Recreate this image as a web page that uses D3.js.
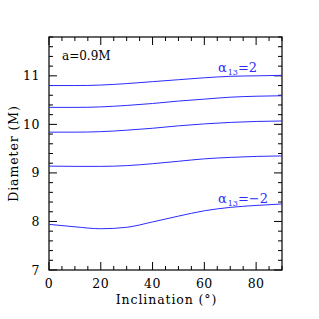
<!DOCTYPE html>
<html>
<head>
<meta charset="utf-8">
<script src="https://cdn.jsdelivr.net/npm/d3@7"></script>
<style>
  body { margin: 0; background: #fff; }
  svg text { font-family: "DejaVu Serif", "Liberation Serif", serif; }
</style>
</head>
<body>
<div id="chart"></div>
<script>
// Inclination samples (degrees)
const inclination = [0, 10, 20, 30, 40, 50, 60, 70, 80, 90];

// Diameter curves, top (alpha13 = 2) to bottom (alpha13 = -2)
const curve1 = [10.80, 10.80, 10.81, 10.84, 10.88, 10.92, 10.96, 10.99, 11.00, 11.01];
const curve2 = [10.35, 10.35, 10.36, 10.39, 10.43, 10.48, 10.52, 10.56, 10.58, 10.59];
const curve3 = [9.84, 9.84, 9.85, 9.88, 9.92, 9.97, 10.01, 10.04, 10.06, 10.07];
const curve4 = [9.14, 9.135, 9.135, 9.15, 9.19, 9.24, 9.29, 9.32, 9.34, 9.35];
const curve5 = [7.94, 7.89, 7.85, 7.88, 7.99, 8.11, 8.22, 8.29, 8.33, 8.36];
const curves = [curve1, curve2, curve3, curve4, curve5];

const xTicks = [0, 20, 40, 60, 80];
const yTicks = [7, 8, 9, 10, 11];

const width = 319, height = 319;
const margin = { left: 49, right: 37, top: 37, bottom: 49 };

const svg = d3.select("#chart").append("svg")
    .attr("width", width)
    .attr("height", height);

const x = d3.scaleLinear().domain([0, 90]).range([margin.left, width - margin.right]);
const y = d3.scaleLinear().domain([7, 11.8]).range([height - margin.bottom, margin.top]);

const x0 = x.range()[0], x1 = x.range()[1];
const y0 = y.range()[0], y1 = y.range()[1];

// ticks on all four sides, pointing inward
const g = svg.append("g").attr("stroke", "#000").attr("stroke-width", 1);
d3.range(0, 90.01, 5).forEach(v => {
    const len = v % 20 === 0 ? 8 : 4;
    const px = x(v);
    g.append("line").attr("x1", px).attr("x2", px).attr("y1", y0).attr("y2", y0 - len);
    g.append("line").attr("x1", px).attr("x2", px).attr("y1", y1).attr("y2", y1 + len);
});
d3.range(7, 11.81, 0.2).forEach(v => {
    const major = Math.abs(v - Math.round(v)) < 1e-6;
    const len = major ? 8 : 4;
    const py = y(v);
    g.append("line").attr("y1", py).attr("y2", py).attr("x1", x0).attr("x2", x0 + len);
    g.append("line").attr("y1", py).attr("y2", py).attr("x1", x1).attr("x2", x1 - len);
});

svg.append("rect")
    .attr("x", x0).attr("y", y1)
    .attr("width", x1 - x0).attr("height", y0 - y1)
    .attr("fill", "none").attr("stroke", "#000").attr("stroke-width", 1.2);

// tick labels
svg.selectAll(".xl").data(xTicks).join("text")
    .attr("x", d => x(d)).attr("y", y0 + 18)
    .attr("text-anchor", "middle").attr("font-size", 12.5)
    .attr("letter-spacing", 0.5)
    .text(d => d);
svg.selectAll(".yl").data(yTicks).join("text")
    .attr("x", x0 - 9).attr("y", d => y(d) + 4.5)
    .attr("text-anchor", "end").attr("font-size", 12.5)
    .attr("letter-spacing", 0.5)
    .text(d => d);

// axis titles
svg.append("text")
    .attr("x", (x0 + x1) / 2 + 1).attr("y", y0 + 34)
    .attr("text-anchor", "middle").attr("font-size", 12.5)
    .attr("letter-spacing", 0.9)
    .text("Inclination (°)");
svg.append("text")
    .attr("transform", `translate(18,${(y0 + y1) / 2}) rotate(-90)`)
    .attr("text-anchor", "middle").attr("font-size", 12.5)
    .attr("letter-spacing", 0.9)
    .text("Diameter (M)");

// curves
const line = d3.line()
    .x((d, i) => x(inclination[i]))
    .y(d => y(d))
    .curve(d3.curveMonotoneX);

svg.selectAll(".curve").data(curves).join("path")
    .attr("d", line)
    .attr("fill", "none")
    .attr("stroke", "#2b2bff")
    .attr("stroke-width", 1);

// annotations
svg.append("text")
    .attr("x", 62).attr("y", 60)
    .attr("font-size", 12)
    .text("a=0.9M");

function alphaLabel(px, py, val) {
    const t = svg.append("text").attr("x", px).attr("y", py)
        .attr("fill", "#2b2bff").attr("font-size", 13);
    t.append("tspan").text("α");
    t.append("tspan").attr("font-size", 8).attr("dy", 3).attr("dx", 1).text("13");
    t.append("tspan").attr("dy", -3).text("=" + val);
}
alphaLabel(218, 72, "2");
alphaLabel(218, 203, "\u22122");
</script>
</body>
</html>
